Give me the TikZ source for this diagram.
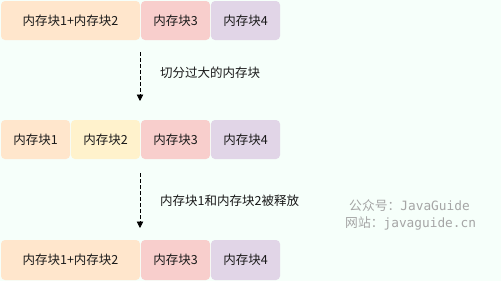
\documentclass[tikz,border=0pt]{standalone}
\usepackage{fontspec}
\setmainfont{Noto Sans CJK SC}
\setmonofont{DejaVu Sans Mono}
\usetikzlibrary{arrows.meta}
\definecolor{bgc}{RGB}{246,255,250}
\definecolor{orangef}{RGB}{255,230,204}
\definecolor{yellowf}{RGB}{255,242,204}
\definecolor{redf}{RGB}{248,206,204}
\definecolor{purplef}{RGB}{225,213,231}
\definecolor{wm}{RGB}{165,165,165}
\begin{document}
\begin{tikzpicture}[x=1pt,y=-1pt,
  blk/.style={rounded corners=4pt,draw=none,inner sep=0pt,font=\fontsize{12.5}{14}\selectfont,text=black!90},
  lbl/.style={anchor=west,inner sep=0pt,font=\fontsize{12.5}{14}\selectfont,text=black!90},
  wmk/.style={anchor=west,inner sep=0pt,text=wm,font=\fontsize{12.8}{14}\selectfont},
  flow/.style={dashed,dash pattern=on 3.5pt off 2.5pt,line width=0.8pt,-{Triangle[length=6.5pt,width=6.5pt]}}]
\fill[bgc] (0,0) rectangle (501,281);
\useasboundingbox (0,0) rectangle (501,281);
% row 1
\node[blk,fill=orangef,minimum width=139pt,minimum height=39pt] (a1) at (70.5,20.5) {内存块1+内存块2};
\node[blk,fill=redf,minimum width=69pt,minimum height=39pt] (a3) at (175.5,20.5) {内存块3};
\node[blk,fill=purplef,minimum width=69pt,minimum height=39pt] (a4) at (245.5,20.5) {内存块4};
% row 2
\node[blk,fill=orangef,minimum width=69pt,minimum height=39pt] (b1) at (35.5,139.5) {内存块1};
\node[blk,fill=yellowf,minimum width=69pt,minimum height=39pt] (b2) at (105.5,139.5) {内存块2};
\node[blk,fill=redf,minimum width=69pt,minimum height=39pt] (b3) at (175.5,139.5) {内存块3};
\node[blk,fill=purplef,minimum width=69pt,minimum height=39pt] (b4) at (245.5,139.5) {内存块4};
% row 3
\node[blk,fill=orangef,minimum width=139pt,minimum height=40pt] (c1) at (70.5,260) {内存块1+内存块2};
\node[blk,fill=redf,minimum width=69pt,minimum height=40pt] (c3) at (175.5,260) {内存块3};
\node[blk,fill=purplef,minimum width=69pt,minimum height=40pt] (c4) at (245.5,260) {内存块4};
% arrows
\coordinate (s1) at (140,52);
\coordinate (e1) at (140,101);
\coordinate (s2) at (140,173);
\coordinate (e2) at (140,228);
\draw[flow] (s1) -- (e1);
\draw[flow] (s2) -- (e2);
\node[lbl] (l1) at (160,73) {切分过大的内存块};
\node[lbl] (l2) at (160,201) {内存块1和内存块2被释放};
% watermark
\node[wmk] (w1) at (349,206) {公众号：\texttt{JavaGuide}};
\node[wmk] (w2) at (345,223) {网站：\texttt{javaguide.cn}};
\end{tikzpicture}
\end{document}
